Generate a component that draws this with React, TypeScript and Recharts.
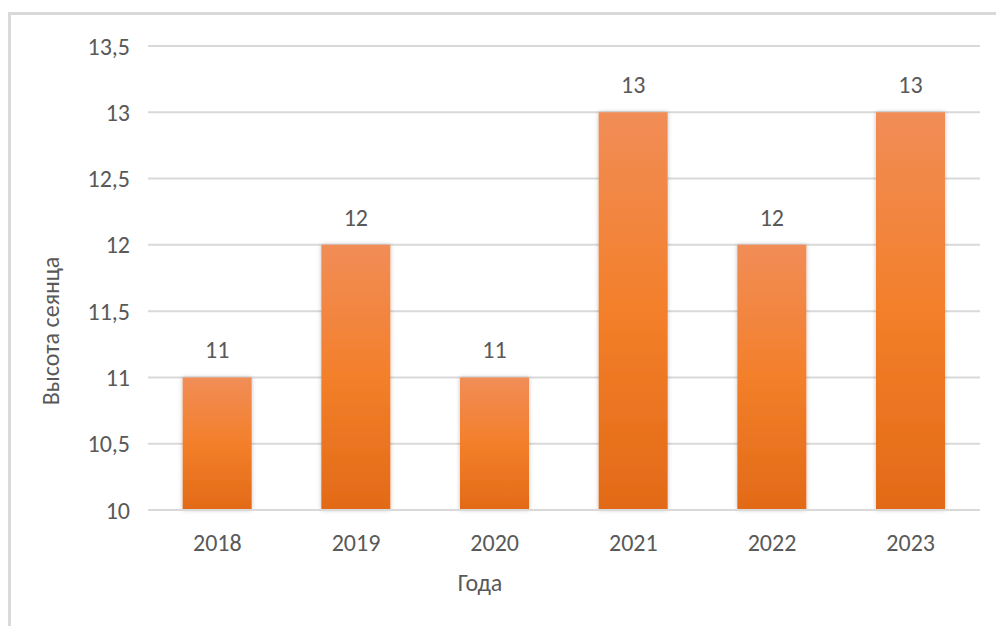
import { BarChart, Bar, XAxis, YAxis, CartesianGrid, LabelList } from "recharts";

const years = ["2018", "2019", "2020", "2021", "2022", "2023"];
const heights = [11, 12, 11, 13, 12, 13];
const yTicks = [10, 10.5, 11, 11.5, 12, 12.5, 13, 13.5];

const data = years.map((year, i) => ({ year, value: heights[i] }));

const FONT = "Carlito, Calibri, 'Open Sans', sans-serif";
const TEXT = "#595959";
const FS = 24;

export default function App() {
  return (
    <div
      style={{
        position: "absolute",
        left: 0,
        top: 0,
        width: 996,
        height: 626,
        overflow: "hidden",
        background: "#fff",
        fontFamily: FONT,
      }}
    >
      <div
        style={{
          position: "absolute",
          left: 8,
          top: 12,
          width: 1000,
          height: 640,
          borderLeft: "3px solid #d9d9d9",
          borderTop: "3px solid #d9d9d9",
        }}
      />
      <div style={{ position: "absolute", left: 0, top: 0 }}>
        <BarChart
          width={996}
          height={626}
          data={data}
          margin={{ top: 46, right: 16, bottom: 86, left: 0 }}
          barCategoryGap="25%"
        >
          <defs>
            <linearGradient id="barFill" x1="0" y1="0" x2="0" y2="1">
              <stop offset="0%" stopColor="#f18d57" />
              <stop offset="50%" stopColor="#f37f2a" />
              <stop offset="100%" stopColor="#e26a17" />
            </linearGradient>
            <filter id="barShadow" x="-20%" y="-5%" width="140%" height="110%">
              <feDropShadow dx="0" dy="0" stdDeviation="2" floodColor="#000" floodOpacity="0.25" />
            </filter>
          </defs>
          <CartesianGrid vertical={false} stroke="#d9d9d9" strokeWidth={2} />
          <XAxis
            dataKey="year"
            axisLine={{ stroke: "#d9d9d9", strokeWidth: 2 }}
            tickLine={false}
            tickMargin={18}
            height={30}
            tick={{ fill: TEXT, fontSize: FS, fontFamily: FONT }}
            label={{
              content: () => (
                <text x={480} y={591} textAnchor="middle" fill={TEXT} fontSize={FS} fontFamily={FONT}>
                  Года
                </text>
              ),
            }}
          />
          <YAxis
            domain={[10, 13.5]}
            ticks={yTicks}
            width={148}
            axisLine={false}
            tickLine={false}
            tickMargin={12}
            tickFormatter={(v: number) => String(v).replace(".", ",")}
            tick={{ fill: TEXT, fontSize: FS, fontFamily: FONT }}
            label={{
              content: () => (
                <text
                  x={50}
                  y={331}
                  textAnchor="middle"
                  dominantBaseline="central"
                  fill={TEXT}
                  fontSize={FS}
                  fontFamily={FONT}
                  transform="rotate(-90 50 331)"
                >
                  Высота сеянца
                </text>
              ),
            }}
          />
          <Bar dataKey="value" fill="url(#barFill)" filter="url(#barShadow)" isAnimationActive={false}>
            <LabelList
              dataKey="value"
              position="top"
              offset={19}
              fill={TEXT}
              fontSize={FS}
              fontFamily={FONT}
            />
          </Bar>
        </BarChart>
      </div>
    </div>
  );
}
